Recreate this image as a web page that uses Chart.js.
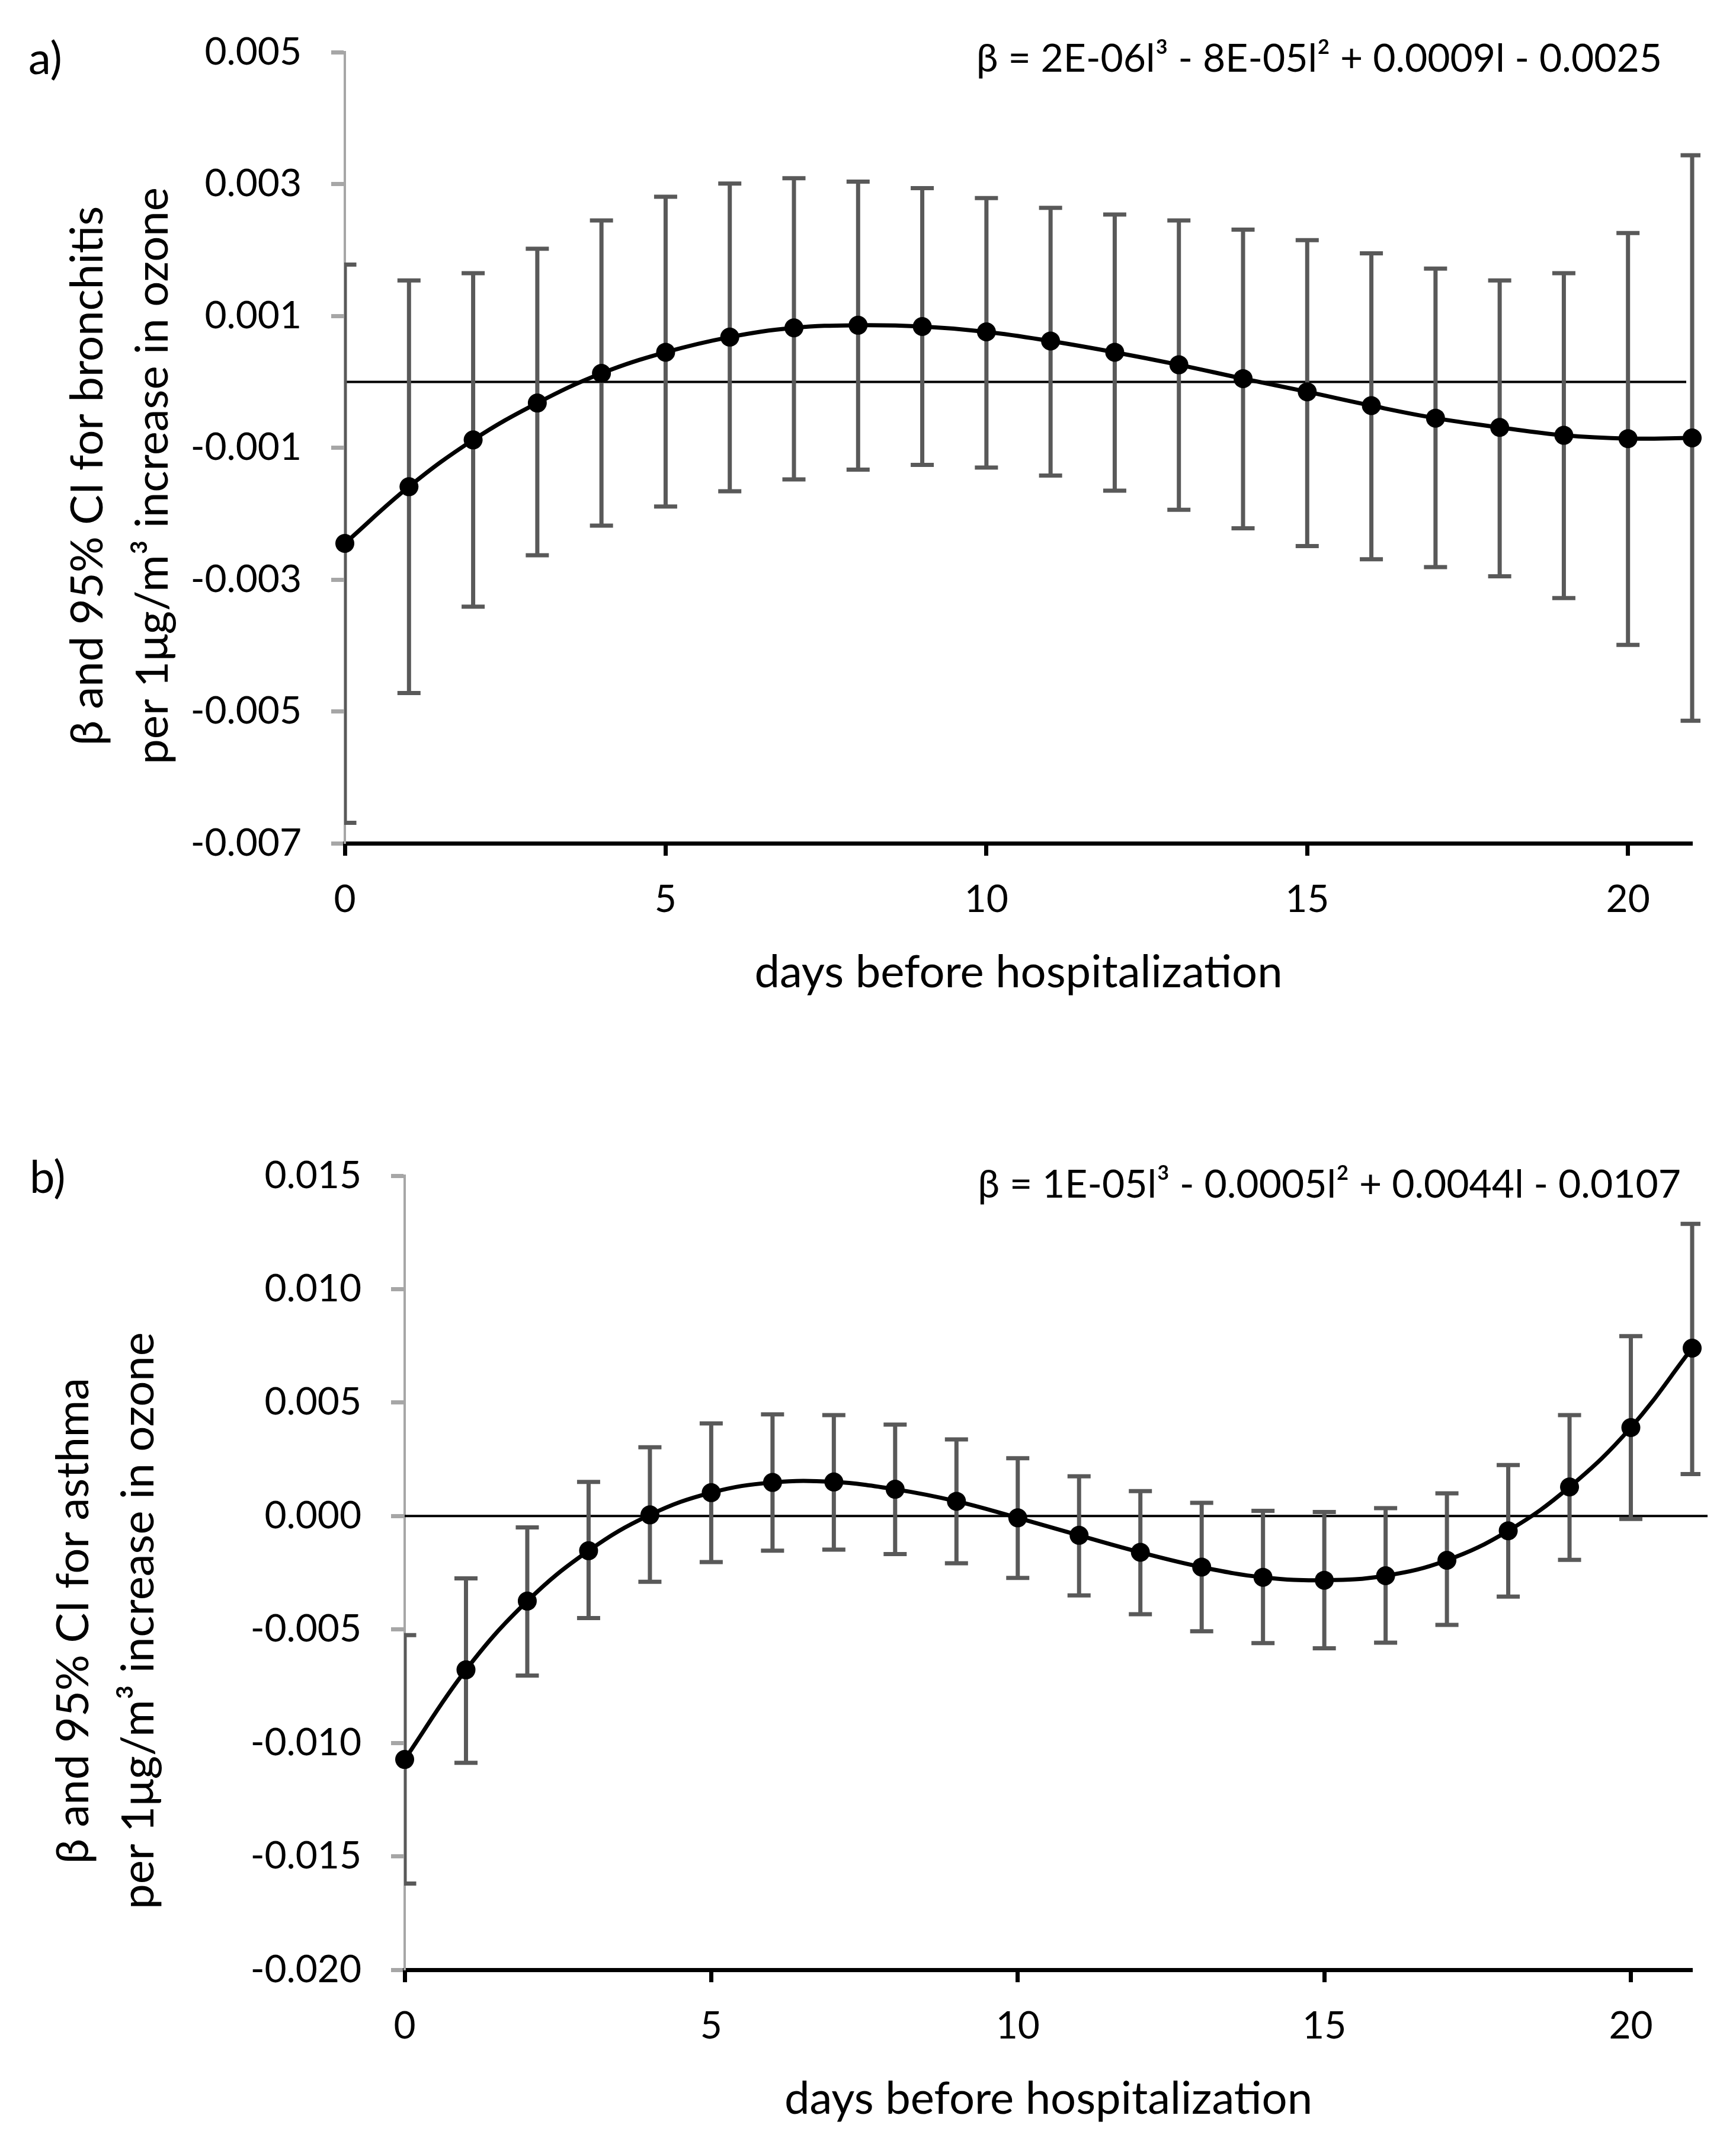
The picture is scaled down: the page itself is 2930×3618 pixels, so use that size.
<!DOCTYPE html>
<html><head><meta charset="utf-8">
<script src="https://cdn.jsdelivr.net/npm/chart.js@4.4.0/dist/chart.umd.min.js"></script>
<style>
html,body{margin:0;padding:0;background:#fff;}
#wrap{position:relative;width:2930px;height:3618px;background:#fff;}
.panel{position:absolute;left:0;width:2930px;}
#pa{top:0;height:1800px;}
#pb{top:1800px;height:1818px;}
canvas{display:block;}
</style></head><body>
<div id="wrap">
<div class="panel" id="pa"><canvas id="ca" width="2930" height="1800"></canvas></div>
<div class="panel" id="pb"><canvas id="cb" width="2930" height="1818"></canvas></div>
</div>
<script>
// ---- data ----
const lags = [0,1,2,3,4,5,6,7,8,9,10,11,12,13,14,15,16,17,18,19,20,21];
const xTicks = [0,5,10,15,20];

// panel a: bronchitis
const betaA  = [-0.00245,-0.00159,-0.00088,-0.00032,0.00013,0.00045,0.00068,0.00082,0.00086,0.00084,0.00076,0.00062,0.00045,0.00026,0.00005,-0.00015,-0.00036,-0.00055,-0.00069,-0.00081,-0.00086,-0.00085];
const upperA = [0.00178,0.00154,0.00165,0.00202,0.00245,0.00281,0.00301,0.00309,0.00304,0.00294,0.00279,0.00264,0.00254,0.00245,0.00231,0.00215,0.00195,0.00172,0.00154,0.00165,0.00226,0.00344];
const lowerA = [-0.00669,-0.00472,-0.00341,-0.00263,-0.00218,-0.00189,-0.00166,-0.00148,-0.00133,-0.00126,-0.00130,-0.00142,-0.00165,-0.00194,-0.00222,-0.00249,-0.00269,-0.00281,-0.00295,-0.00328,-0.00399,-0.00514];
const yTicksA = [-0.007,-0.005,-0.003,-0.001,0.001,0.003,0.005];
const eqA = 'β = 2E-06l³ - 8E-05l² + 0.0009l - 0.0025';
const yTitleA = ['β and 95% CI for bronchitis', 'per 1μg/m³ increase in ozone'];

// panel b: asthma
const betaB  = [-0.01073,-0.00678,-0.00375,-0.00153,0.00005,0.00103,0.00148,0.00150,0.00118,0.00065,-0.00008,-0.00085,-0.00160,-0.00225,-0.00270,-0.00283,-0.00263,-0.00195,-0.00065,0.00128,0.00390,0.00740];
const upperB = [-0.00525,-0.00275,-0.00050,0.00150,0.00303,0.00408,0.00448,0.00445,0.00403,0.00338,0.00255,0.00175,0.00110,0.00058,0.00023,0.00018,0.00035,0.00100,0.00225,0.00445,0.00793,0.01288];
const lowerB = [-0.01620,-0.01088,-0.00703,-0.00450,-0.00290,-0.00203,-0.00153,-0.00148,-0.00168,-0.00208,-0.00273,-0.00350,-0.00433,-0.00508,-0.00560,-0.00583,-0.00558,-0.00480,-0.00355,-0.00193,-0.00013,0.00185];
const yTicksB = [-0.020,-0.015,-0.010,-0.005,0.000,0.005,0.010,0.015];
const eqB = 'β = 1E-05l³ - 0.0005l² + 0.0044l - 0.0107';
const yTitleB = ['β and 95% CI for asthma', 'per 1μg/m³ increase in ozone'];

const xTitle = 'days before hospitalization';
const FAM = "Lato, 'Open Sans', 'Noto Sans', sans-serif";

function makeChart(id, p) {
  const overlay = {
    id: 'overlay_' + id,
    beforeDatasetsDraw(chart) {
      const ctx = chart.ctx, xs = chart.scales.x, ys = chart.scales.y, ca = chart.chartArea;
      // zero reference line
      ctx.save();
      ctx.strokeStyle = '#000'; ctx.lineWidth = 4;
      const y0 = ys.getPixelForValue(0);
      ctx.beginPath(); ctx.moveTo(ca.left, y0); ctx.lineTo(xs.getPixelForValue(21) + p.zeroExt, y0); ctx.stroke();
      ctx.restore();
      // error bars
      ctx.save();
      ctx.beginPath(); ctx.rect(ca.left - 1, 0, ca.right - ca.left + 15, chart.height); ctx.clip();
      ctx.strokeStyle = '#595959'; ctx.lineWidth = 7; ctx.lineCap = 'butt';
      for (let i = 0; i < lags.length; i++) {
        const x = xs.getPixelForValue(lags[i]);
        const yu = ys.getPixelForValue(p.upper[i]);
        const yl = ys.getPixelForValue(p.lower[i]);
        ctx.beginPath();
        ctx.moveTo(x, yu); ctx.lineTo(x, yl);
        ctx.moveTo(x - 19.5, yu); ctx.lineTo(x + 19.5, yu);
        ctx.moveTo(x - 19.5, yl); ctx.lineTo(x + 19.5, yl);
        ctx.stroke();
      }
      ctx.restore();
    },
    afterDraw(chart) {
      const ctx = chart.ctx;
      ctx.save();
      ctx.fillStyle = '#000';
      ctx.textBaseline = 'middle';
      ctx.font = '76px ' + FAM;
      ctx.textAlign = 'left';
      ctx.fillText(p.label, p.labelX, p.labelY);
      ctx.font = '66px ' + FAM;
      ctx.textAlign = 'right';
      ctx.fillText(p.eq, p.eqX, p.eqY);
      ctx.font = '76px ' + FAM;
      ctx.textAlign = 'center';
      p.yTitle.forEach((t, k) => {
        ctx.save();
        ctx.translate(p.yTitleX[k], p.yTitleY);
        ctx.rotate(-Math.PI / 2);
        ctx.fillText(t, 0, 0);
        ctx.restore();
      });
      ctx.restore();
    }
  };
  return new Chart(document.getElementById(id), {
    type: 'line',
    data: {
      datasets: [{
        data: lags.map((l, i) => ({x: l, y: p.beta[i]})),
        borderColor: '#000', backgroundColor: '#000', borderWidth: 7,
        tension: 0.4, fill: false,
        pointRadius: 16, pointBackgroundColor: '#000', pointBorderColor: '#000', pointBorderWidth: 0,
        clip: 20
      }]
    },
    options: {
      responsive: false, devicePixelRatio: 1, animation: false,
      layout: {padding: {left: 0, top: p.padTop, right: 74, bottom: p.padBottom}},
      plugins: {legend: {display: false}, tooltip: {enabled: false}},
      scales: {
        x: {
          type: 'linear', min: 0, max: 21,
          afterBuildTicks: s => { s.ticks = xTicks.map(v => ({value: v})); },
          afterFit: s => { s.height = 264; },
          grid: {drawOnChartArea: false, drawTicks: true, tickLength: 21, tickColor: '#000', tickWidth: 7},
          border: {color: '#000', width: 7},
          ticks: {color: '#000', font: {family: FAM, size: 64}, padding: 36, maxRotation: 0, autoSkip: false},
          title: {display: true, text: xTitle, color: '#000', font: {family: FAM, size: 76}, padding: 0}
        },
        y: {
          type: 'linear', min: p.yMin, max: p.yMax,
          afterBuildTicks: s => { s.ticks = p.yTicks.map(v => ({value: v})); },
          afterFit: s => { s.width = p.yWidth; },
          grid: {drawOnChartArea: false, drawTicks: true, tickLength: 23, tickColor: '#a6a6a6', tickWidth: 7},
          border: {color: '#a6a6a6', width: 4},
          ticks: {color: '#000', font: {family: FAM, size: 64}, padding: 50, autoSkip: false,
                  callback: v => Number(v).toFixed(3)}
        }
      }
    },
    plugins: [overlay]
  });
}

makeChart('ca', {
  beta: betaA, upper: upperA, lower: lowerA, yTicks: yTicksA, yMin: -0.007, yMax: 0.005,
  padTop: 84, padBottom: 113, yWidth: 582, zeroExt: -10,
  label: 'a)', labelX: 48, labelY: 100, eq: eqA, eqX: 2805, eqY: 100,
  yTitle: yTitleA, yTitleX: [148, 258], yTitleY: 803
});
makeChart('cb', {
  beta: betaB, upper: upperB, lower: lowerB, yTicks: yTicksB, yMin: -0.020, yMax: 0.015,
  padTop: 184, padBottom: 30, yWidth: 683, zeroExt: 26,
  label: 'b)', labelX: 50, labelY: 188, eq: eqB, eqX: 2837, eqY: 200,
  yTitle: yTitleB, yTitleX: [124, 234], yTitleY: 935
});
</script>
</body></html>
